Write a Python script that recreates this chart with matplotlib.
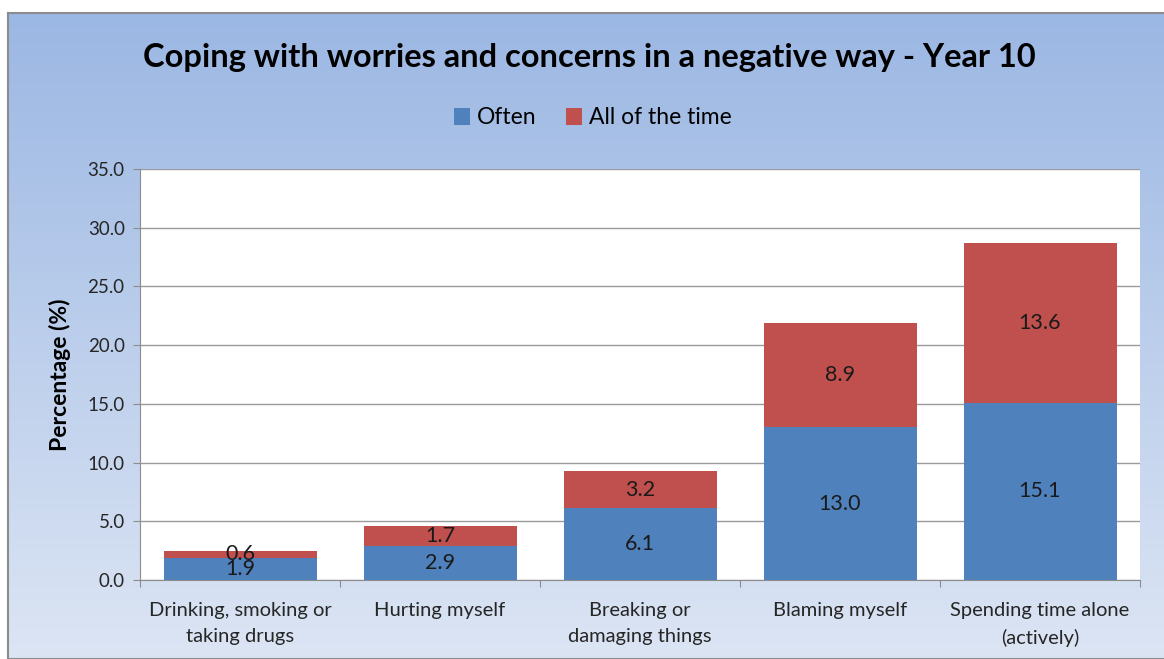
import numpy as np
import matplotlib
matplotlib.use('Agg')
import matplotlib.pyplot as plt

categories = ['Drinking, smoking or\ntaking drugs', 'Hurting myself',
              'Breaking or\ndamaging things', 'Blaming myself',
              'Spending time alone\n(actively)']
often = [1.9, 2.9, 6.1, 13.0, 15.1]
all_time = [0.6, 1.7, 3.2, 8.9, 13.6]
yticks = [0, 5, 10, 15, 20, 25, 30, 35]

plt.rcParams['font.family'] = ['Lato', 'DejaVu Sans']

W, H = 1164, 659
fig = plt.figure(figsize=(W / 100, H / 100), dpi=100)
fig.patch.set_facecolor('white')

# gradient frame background
bg = fig.add_axes([8 / W, 0, 1, 1 - 13 / H])
top = np.array([155, 183, 227]) / 255
bot = np.array([220, 229, 244]) / 255
t = np.linspace(0, 1, 256)[:, None]
grad = top[None, :] * (1 - t) + bot[None, :] * t
bg.imshow(grad[:, None, :], aspect='auto', extent=[0, 1, 0, 1])
bg.set_xticks([])
bg.set_yticks([])
for s in bg.spines.values():
    s.set_color('#8c8c8c')
    s.set_linewidth(1.5)

ax = fig.add_axes([140 / W, 1 - 580 / H, 1000 / W, 411 / H])
ax.set_facecolor('white')
x = np.arange(len(categories))
w = 0.765
b1 = ax.bar(x, often, w, color='#4F81BD', label='Often', zorder=3)
b2 = ax.bar(x, all_time, w, bottom=often, color='#C0504D', label='All of the time', zorder=3)

for i in range(len(categories)):
    ax.text(x[i], often[i] / 2, f'{often[i]:.1f}', ha='center', va='center',
            fontsize=15.5, color='#1a1a1a', zorder=4)
    ax.text(x[i], often[i] + all_time[i] / 2, f'{all_time[i]:.1f}', ha='center',
            va='center', fontsize=15.5, color='#1a1a1a', zorder=4)

ax.set_xlim(-0.5, len(categories) - 0.5)
ax.set_ylim(0, 35)
ax.set_yticks(yticks)
ax.set_yticklabels([f'{v:.1f}' for v in yticks], fontsize=13.5, color='#262626')
ax.yaxis.grid(True, color='#9a9a9a', linewidth=1, zorder=0)
ax.set_xticks(np.arange(-0.5, len(categories), 1.0))
ax.set_xticklabels([])
ax.set_xticks(x, minor=True)
ax.set_xticklabels(categories, minor=True, fontsize=14.5, color='#262626',
                   linespacing=1.65)
ax.tick_params(axis='x', which='minor', length=0, pad=16)
ax.tick_params(axis='x', which='major', length=5, color='#8c8c8c', direction='out')
ax.tick_params(axis='y', length=5, color='#8c8c8c', pad=6)
for s in ['top', 'right']:
    ax.spines[s].set_visible(False)
ax.spines['left'].set_color('#8c8c8c')
ax.spines['bottom'].set_color('#8c8c8c')
ax.set_ylabel('Percentage (%)', fontsize=16.5, fontweight='bold', labelpad=12)

fig.text(589 / W, 1 - 57 / H, 'Coping with worries and concerns in a negative way - Year 10',
         ha='center', va='center', fontsize=23.5, fontweight='bold')
fig.legend(handles=[b1, b2], loc='center', bbox_to_anchor=(593 / W, 1 - 118 / H),
           ncol=2, frameon=False, fontsize=16.5, handlelength=0.7, handleheight=0.7,
           handletextpad=0.3, columnspacing=1.3)

fig.savefig('out.png', dpi=100)
